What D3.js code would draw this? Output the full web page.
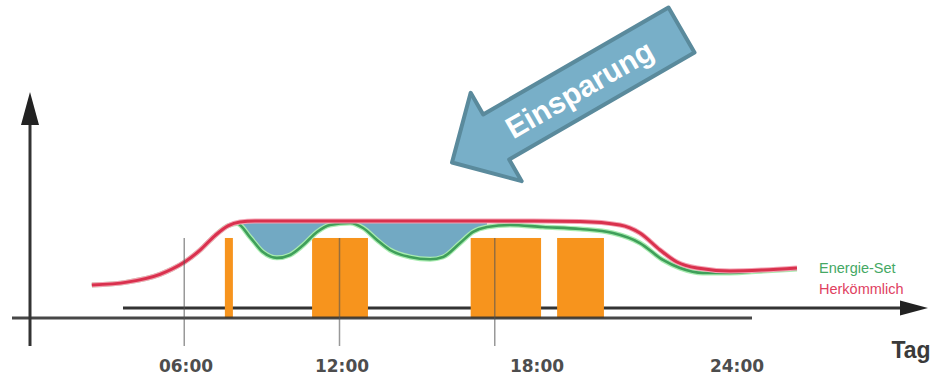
<!DOCTYPE html>
<html>
<head>
<meta charset="utf-8">
<script src="https://cdn.jsdelivr.net/npm/d3@7"></script>
<style>
  html, body { margin: 0; padding: 0; background: #fff; }
  svg { display: block; }
</style>
</head>
<body>
<svg id="chart" width="936" height="377"></svg>
<script>
// Load profile over a day: conventional control vs. Energie-Set
const redHours   = [2.43, 3.79, 5.06, 5.53, 6.03, 6.61, 7.19, 7.69, 8.15, 8.73, 12, 16, 19.5, 21.3, 22.84, 23.61, 24.39, 25.04, 25.82, 27.09, 28.37, 29.68];
const redValues  = [34, 37, 45, 50.5, 58, 70, 85, 95, 99, 100, 100, 100, 100, 99.5, 95.9, 87.6, 70.1, 57.7, 51.5, 48.5, 49.5, 51.5];

const greenHours  = [2.43, 3.79, 5.06, 5.53, 6.03, 6.61, 7.19, 7.69, 8.04, 8.54, 9.04, 9.58, 10.09, 10.59, 11.13, 11.63, 12.41, 12.91, 13.45, 13.95, 14.72, 15.5, 16.0, 16.66, 17.16, 17.7, 18.59, 19.86, 21.3, 22.57, 23.61, 24.5, 25.16, 26.05, 27.09, 28.37, 29.68];
const greenValues = [34, 37, 45, 50.5, 58, 70, 85, 95, 97.5, 83.5, 68, 62, 65, 75, 88.7, 95.9, 98, 92.8, 80.4, 70.1, 62.9, 60.5, 62.9, 77.3, 88.7, 93.8, 95.9, 93.8, 91.8, 87.6, 77.3, 59.8, 51.5, 46.4, 46.4, 48.5, 50.5];

// Occupancy blocks (start hour, end hour, level)
const blockStart = [7.57, 10.94, 17.07, 20.41];
const blockEnd   = [7.88, 13.10, 19.79, 22.22];
const blockLevel = [82.5, 82.5, 82.5, 82.5];

// Saving window shaded between the two curves
const savingFrom = 8.0;
const savingTo   = 17.7;

const guideHours = [6, 12, 18];
const tickHours  = [6, 12, 18, 24];
const tickLabels = ["06:00", "12:00", "18:00", "24:00"];

const seriesNames  = ["Energie-Set", "Herkömmlich"];
const seriesColors = ["#3f9f5a", "#d9314d"];

const svg = d3.select("#chart");

const x = d3.scaleLinear().domain([0, 24]).range([29, 650]);
const y = d3.scaleLinear().domain([0, 100]).range([318, 221]);
const labelX = d3.scaleLinear().domain(tickHours).range([186, 342, 537, 737]);

const red = redHours.map((h, i) => [h, redValues[i]]);
const green = greenHours.map((h, i) => [h, greenValues[i]]);
const redAt = h => {
  const i = d3.bisectRight(redHours, h);
  if (i <= 0) return redValues[0];
  if (i >= redHours.length) return redValues[redValues.length - 1];
  const t = (h - redHours[i - 1]) / (redHours[i] - redHours[i - 1]);
  return redValues[i - 1] + t * (redValues[i] - redValues[i - 1]);
};

// Time axis arrow (upper line) and baseline
svg.append("line")
  .attr("x1", 123).attr("x2", 905).attr("y1", 308).attr("y2", 308)
  .attr("stroke", "#333").attr("stroke-width", 3);
svg.append("path")
  .attr("d", "M928,308 L900,300.5 L900,315.5 Z")
  .attr("fill", "#222");

// Blocks
svg.append("g").selectAll("rect")
  .data(blockStart)
  .join("rect")
  .attr("x", (d, i) => x(d))
  .attr("width", (d, i) => x(blockEnd[i]) - x(d))
  .attr("y", (d, i) => y(blockLevel[i]))
  .attr("height", (d, i) => y(0) - y(blockLevel[i]))
  .attr("fill", "#f7941d");

// Baseline over the blocks
svg.append("line")
  .attr("x1", 12).attr("x2", 752).attr("y1", 318).attr("y2", 318)
  .attr("stroke", "#333").attr("stroke-width", 3).attr("stroke-opacity", 0.9);

// Vertical axis with arrow
svg.append("line")
  .attr("x1", 30).attr("x2", 30).attr("y1", 120).attr("y2", 346)
  .attr("stroke", "#333").attr("stroke-width", 3);
svg.append("path")
  .attr("d", "M30,92 L21,125 L39,125 Z")
  .attr("fill", "#222");

// Saving area
svg.append("clipPath").attr("id", "saveClip")
  .append("rect")
  .attr("x", x(savingFrom)).attr("width", x(savingTo) - x(savingFrom))
  .attr("y", 0).attr("height", 377);

const curve = d3.curveMonotoneX;
svg.append("path")
  .datum(green)
  .attr("clip-path", "url(#saveClip)")
  .attr("fill", "#72a9c3")
  .attr("d", d3.area().curve(curve)
    .x(d => x(d[0]))
    .y0(d => y(redAt(d[0])))
    .y1(d => y(d[1])));

// Curves with a soft halo
const line = d3.line().curve(curve).x(d => x(d[0])).y(d => y(d[1]));
svg.append("path").datum(green).attr("d", line)
  .attr("fill", "none").attr("stroke", "#a8ecb0").attr("stroke-width", 5);
svg.append("path").datum(green).attr("d", line)
  .attr("fill", "none").attr("stroke", seriesColors[0]).attr("stroke-width", 2.6);
svg.append("path").datum(red).attr("d", line)
  .attr("fill", "none").attr("stroke", "#f4a3b4").attr("stroke-width", 5);
svg.append("path").datum(red).attr("d", line)
  .attr("fill", "none").attr("stroke", seriesColors[1]).attr("stroke-width", 3);

// Hour guides
svg.append("g").selectAll("line")
  .data(guideHours)
  .join("line")
  .attr("x1", d => x(d)).attr("x2", d => x(d))
  .attr("y1", y(blockLevel[0])).attr("y2", 346)
  .attr("stroke", "#555").attr("stroke-opacity", 0.6).attr("stroke-width", 1.5);

// Tick labels
svg.append("g").selectAll("text")
  .data(tickHours)
  .join("text")
  .attr("x", d => labelX(d))
  .attr("y", 372)
  .attr("text-anchor", "middle")
  .attr("font-family", "DejaVu Sans, sans-serif")
  .attr("font-weight", "bold")
  .attr("font-size", 17)
  .attr("fill", "#4d4d4d")
  .text((d, i) => tickLabels[i]);

svg.append("text")
  .attr("x", 911).attr("y", 358)
  .attr("text-anchor", "middle")
  .attr("font-family", "Liberation Sans, Arial, sans-serif")
  .attr("font-weight", "bold")
  .attr("font-size", 23)
  .attr("fill", "#3a3a3a")
  .text("Tag");

// Legend
svg.append("g").selectAll("text")
  .data(seriesNames)
  .join("text")
  .attr("x", 819)
  .attr("y", (d, i) => 273 + i * 21)
  .attr("font-family", "Liberation Sans, Arial, sans-serif")
  .attr("font-size", 14.5)
  .attr("fill", (d, i) => i === 0 ? "#45a864" : "#e0415f")
  .text(d => d);

// "Einsparung" arrow, built along its own axis (tail at 0, tip at length)
const arrowLen = 265, headBase = 214, shaftHalf = 26, headHalf = 51;
const arrow = svg.append("g")
  .attr("transform", "translate(681.5,30) rotate(150)");
arrow.append("path")
  .attr("d", d3.line()([
    [0, -shaftHalf], [headBase, -shaftHalf], [headBase, -headHalf],
    [arrowLen, 0],
    [headBase, headHalf], [headBase, shaftHalf], [0, shaftHalf]
  ]) + "Z")
  .attr("fill", "#78afc8")
  .attr("stroke", "#5a8a9c")
  .attr("stroke-width", 4)
  .attr("stroke-linejoin", "round");
arrow.append("text")
  .attr("transform", "translate(118,0) rotate(180)")
  .attr("text-anchor", "middle")
  .attr("dy", "0.36em")
  .attr("font-family", "Liberation Sans, Arial, sans-serif")
  .attr("font-weight", "bold")
  .attr("font-size", 30)
  .attr("fill", "#fff")
  .text("Einsparung");
</script>
</body>
</html>
